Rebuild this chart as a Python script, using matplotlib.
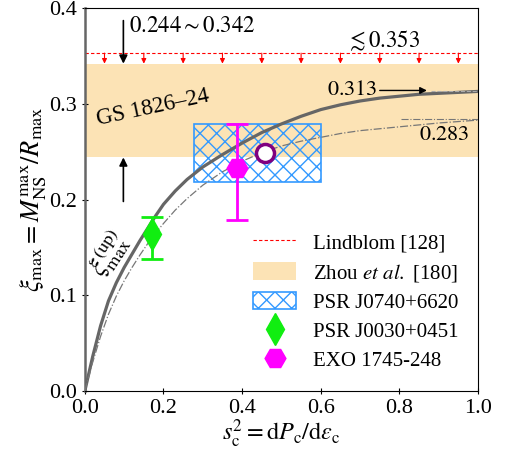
import numpy as np
import matplotlib.pyplot as plt
from matplotlib.patches import Rectangle, Patch
from matplotlib.lines import Line2D

plt.rcParams['font.family'] = ['Liberation Serif', 'DejaVu Serif']
plt.rcParams['mathtext.fontset'] = 'stix'

# upper bound curve xi_max^(up)
s2_up = [0, 0.02, 0.04, 0.06, 0.08, 0.10, 0.12, 0.14, 0.16, 0.18, 0.2, 0.23,
         0.26, 0.3, 0.35, 0.4, 0.45, 0.5, 0.55, 0.6, 0.65, 0.7, 0.75, 0.8,
         0.85, 0.9, 0.95, 1.0]
xi_up = [0, 0.036, 0.068, 0.094, 0.113, 0.129, 0.143, 0.157, 0.170, 0.183,
         0.195, 0.209, 0.221, 0.234, 0.247, 0.259, 0.270, 0.279, 0.287,
         0.294, 0.299, 0.303, 0.306, 0.308, 0.310, 0.311, 0.312, 0.313]

# dash-dot curve
s2_dd = [0, 0.02, 0.04, 0.06, 0.08, 0.1, 0.12, 0.14, 0.16, 0.18, 0.2, 0.23,
         0.26, 0.3, 0.35, 0.4, 0.45, 0.5, 0.55, 0.6, 0.65, 0.7, 0.75, 0.8,
         0.85, 0.9, 0.95, 1.0]
xi_dd = [0, 0.030, 0.057, 0.080, 0.099, 0.115, 0.129, 0.142, 0.154, 0.165,
         0.175, 0.189, 0.201, 0.215, 0.229, 0.240, 0.249, 0.256, 0.261,
         0.265, 0.269, 0.272, 0.274, 0.276, 0.278, 0.280, 0.2815, 0.283]

lindblom = 0.353
zhou_lo, zhou_hi = 0.244, 0.342
j0740_s2 = (0.278, 0.6)
j0740_xi = (0.218, 0.279)

j0030_s2, j0030_xi = 0.171, 0.1635
j0030_err = (0.026, 0.0185)
exo_s2, exo_xi = 0.388, 0.233
exo_err = (0.054, 0.046)
circ_s2, circ_xi = 0.459, 0.249

arrow_s2 = [0.05, 0.15, 0.25, 0.35, 0.45, 0.55, 0.65, 0.75, 0.85, 0.95]

fig = plt.figure(figsize=(5.05, 4.53), dpi=100)
ax = fig.add_axes([0.168, 0.137, 0.7786, 0.845])

ax.axhspan(zhou_lo, zhou_hi, color='#fce3b5', lw=0, zorder=0)
ax.axhline(lindblom, color='red', ls='--', lw=0.8, dashes=(3, 2), zorder=1)
for s in arrow_s2:
    ax.annotate('', xy=(s, zhou_hi), xytext=(s, lindblom),
                arrowprops=dict(arrowstyle='-|>', color='red', lw=0.8,
                                mutation_scale=7, shrinkA=0, shrinkB=0))

rect = Rectangle((j0740_s2[0], j0740_xi[0]), j0740_s2[1] - j0740_s2[0],
                 j0740_xi[1] - j0740_xi[0], facecolor='none',
                 edgecolor='#3399ff', hatch='xx', lw=1.2, zorder=2)
ax.add_patch(rect)

ax.plot(s2_up, xi_up, color='#666666', lw=2.3, zorder=3)
ax.plot(s2_dd, xi_dd, color='#777777', lw=0.9, ls='-.', zorder=3)
ax.plot([0.88, 1.0], [0.313, 0.313], color='#aaaaaa', lw=0.8, ls='--', zorder=3)
ax.plot([0.804, 1.0], [0.284, 0.284], color='#777777', lw=0.8, ls='-.', zorder=3)

ax.errorbar(j0030_s2, j0030_xi, yerr=[[j0030_err[0]], [j0030_err[1]]],
            fmt='d', color='#11ee11', ms=16, capsize=8, elinewidth=2,
            capthick=2, zorder=5)
ax.errorbar(exo_s2, exo_xi, yerr=[[exo_err[0]], [exo_err[1]]],
            fmt='H', color='magenta', ms=15, capsize=8, elinewidth=2,
            capthick=2, zorder=5)
ax.plot(circ_s2, circ_xi, 'o', mfc='white', mec='purple', mew=2.5, ms=13,
        zorder=6)

# arrows and annotations
ax.annotate('', xy=(0.098, zhou_hi), xytext=(0.098, 0.387),
            arrowprops=dict(arrowstyle='-|>', color='black', lw=1.2,
                            mutation_scale=12, shrinkA=0, shrinkB=0))
ax.annotate('', xy=(0.098, zhou_lo), xytext=(0.098, 0.198),
            arrowprops=dict(arrowstyle='-|>', color='black', lw=1.2,
                            mutation_scale=12, shrinkA=0, shrinkB=0))
ax.text(0.113, 0.381, r'$0.244 \sim 0.342$', fontsize=16.5, va='center')
ax.text(0.665, 0.366, r'$\lesssim 0.353$', fontsize=16.5, va='center')
ax.text(0.617, 0.314, r'$0.313$', fontsize=16, va='center')
ax.annotate('', xy=(0.87, 0.314), xytext=(0.75, 0.314),
            arrowprops=dict(arrowstyle='-|>', color='black', lw=1.0,
                            mutation_scale=10, shrinkA=0, shrinkB=0))
ax.text(0.85, 0.267, r'$0.283$', fontsize=16, va='center')
ax.text(0.173, 0.296, 'GS 1826–24', fontsize=16.5, rotation=12,
        ha='center', va='center')
ax.text(0.062, 0.143, r'$\xi_{\rm max}^{\rm (up)}$', fontsize=19,
        rotation=57, ha='center', va='center')

ax.set_xlim(0, 1)
ax.set_ylim(0, 0.4)
ax.set_xticks([0, 0.2, 0.4, 0.6, 0.8, 1.0])
ax.set_yticks([0, 0.1, 0.2, 0.3, 0.4])
ax.tick_params(labelsize=16, direction='inout', length=5)
ax.spines['left'].set_color('#666666')
ax.spines['left'].set_linewidth(1.8)
ax.set_xlabel(r'$s_{\rm c}^2=\mathrm{d}P_{\rm c}/\mathrm{d}\varepsilon_{\rm c}$',
              fontsize=17.5, labelpad=0)
ax.set_ylabel(r'$\xi_{\rm max}=M_{\rm NS}^{\rm max}/R_{\rm max}$',
              fontsize=19, labelpad=0)

handles = [
    Line2D([], [], color='red', ls='--', lw=0.8, dashes=(3, 2)),
    Patch(facecolor='#fce3b5', edgecolor='none'),
    Patch(facecolor='none', edgecolor='#3399ff', hatch='xx', lw=1.2),
    Line2D([], [], marker='d', color='#11ee11', ls='none', ms=16),
    Line2D([], [], marker='H', color='magenta', ls='none', ms=15),
]
labels = ['Lindblom [128]', r'Zhou $et$ $al.$ [180]', 'PSR J0740+6620',
          'PSR J0030+0451', 'EXO 1745-248']
ax.legend(handles, labels, loc='lower right', frameon=False, fontsize=15,
          handlelength=2.05, handleheight=0.9, handletextpad=0.8,
          labelspacing=0.4, borderaxespad=0.55)

fig.savefig('out.png', dpi=100)
